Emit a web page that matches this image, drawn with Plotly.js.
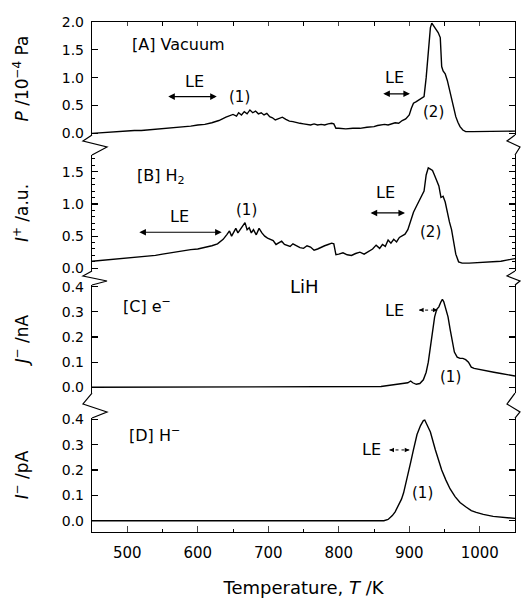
<!DOCTYPE html>
<html>
<head>
<meta charset="utf-8">
<script src="https://cdn.plot.ly/plotly-3.0.1.min.js"></script>
<style>html,body{margin:0;padding:0;background:#fff;}#chart{width:521px;height:598px;}</style>
</head>
<body>
<div id="chart"></div>
<script>
// ---------- data ----------
const tempA = [450,460,470,480,490,500,510,520,530,540,550,560,570,580,590,600,610,620,630,640,645,650,655,658,662,666,670,674,678,682,686,690,694,698,702,706,710,715,720,725,730,735,740,745,750,755,760,765,770,775,780,785,790,793,796,800,810,820,830,840,850,855,860,865,870,875,880,885,890,895,900,903,906,910,914,918,921,924,927,930,932,935,938,941,944,946,948,951,954,957,960,963,966,969,972,976,980,990,1000,1010,1020,1030,1040,1050];
const pressureA = [0.00,0.01,0.02,0.03,0.03,0.04,0.05,0.05,0.06,0.07,0.08,0.09,0.10,0.11,0.13,0.15,0.16,0.19,0.23,0.29,0.31,0.34,0.31,0.37,0.33,0.39,0.35,0.42,0.37,0.40,0.35,0.37,0.33,0.36,0.30,0.28,0.24,0.26,0.29,0.25,0.22,0.21,0.19,0.18,0.17,0.16,0.15,0.17,0.15,0.16,0.15,0.17,0.18,0.17,0.09,0.09,0.08,0.09,0.09,0.11,0.12,0.14,0.15,0.16,0.15,0.17,0.19,0.18,0.23,0.26,0.33,0.45,0.54,0.57,0.60,0.63,0.66,1.00,1.50,1.90,1.98,1.93,1.87,1.81,1.72,1.20,1.12,1.07,0.95,0.78,0.62,0.45,0.30,0.20,0.12,0.06,0.03,0.03,0.03,0.03,0.03,0.03,0.03,0.04];

const tempB = [450,460,470,480,490,500,510,520,530,540,550,560,570,580,590,600,610,620,628,636,641,645,648,651,654,657,660,664,667,670,673,676,679,683,687,691,695,699,703,707,711,715,719,723,727,731,735,740,745,750,755,760,765,770,775,780,785,790,793,796,800,806,812,818,824,830,836,842,848,853,858,862,866,870,874,878,882,886,890,894,898,902,906,910,914,918,921,924,927,930,933,936,939,942,945,948,951,954,957,960,963,966,970,975,985,1000,1010,1020,1030,1040,1048,1050];
const ionB = [0.11,0.12,0.13,0.13,0.14,0.15,0.16,0.17,0.19,0.20,0.22,0.24,0.25,0.27,0.29,0.30,0.32,0.35,0.38,0.45,0.52,0.58,0.50,0.55,0.62,0.55,0.60,0.66,0.71,0.60,0.63,0.55,0.60,0.52,0.62,0.55,0.50,0.47,0.45,0.43,0.37,0.39,0.42,0.37,0.35,0.34,0.38,0.35,0.32,0.31,0.35,0.33,0.28,0.30,0.33,0.35,0.37,0.39,0.38,0.21,0.22,0.24,0.21,0.20,0.23,0.25,0.22,0.26,0.30,0.36,0.31,0.37,0.34,0.44,0.39,0.45,0.41,0.48,0.50,0.53,0.60,0.74,0.87,0.96,1.05,1.12,1.20,1.45,1.56,1.54,1.52,1.44,1.36,1.28,1.10,1.12,1.03,0.85,0.72,0.60,0.38,0.22,0.10,0.08,0.08,0.09,0.09,0.10,0.11,0.13,0.14,0.15];

const tempC = [450,500,550,600,650,700,750,800,850,860,870,880,890,898,902,905,910,915,920,924,927,930,933,936,939,942,945,947,949,952,955,958,961,964,968,972,976,980,984,988,992,1000,1010,1020,1030,1040,1050];
const electronC = [0,0,0,0,0,0,0,0,0,0.003,0.007,0.010,0.014,0.018,0.025,0.018,0.012,0.015,0.030,0.060,0.100,0.160,0.220,0.280,0.310,0.320,0.340,0.350,0.340,0.310,0.280,0.230,0.180,0.140,0.120,0.115,0.115,0.110,0.100,0.080,0.075,0.070,0.065,0.060,0.055,0.050,0.045];

const tempD = [450,500,550,600,650,700,750,800,850,864,870,876,880,885,889,892,895,898,902,906,911,916,920,922,925,930,937,942,946,952,958,965,972,980,988,995,1005,1019,1035,1050];
const hydrideD = [0,0,0,0,0,0,0,0,0,0,0.005,0.020,0.035,0.060,0.085,0.110,0.150,0.190,0.230,0.280,0.340,0.375,0.395,0.397,0.380,0.350,0.280,0.235,0.200,0.160,0.125,0.095,0.072,0.055,0.040,0.033,0.025,0.017,0.012,0.009];

const tickLabelsA = ['0.0','0.5','1.0','1.5','2.0'];
const tickLabelsB = ['0.0','0.5','1.0','1.5'];
const tickLabelsCD = ['0.0','0.1','0.2','0.3','0.4'];

// ---------- style ----------
const FONT = 'DejaVu Sans, Liberation Sans, sans-serif';
const W = 521, H = 598, ML = 92, MR = 6, MT = 22, MB = 66;
const PW = W - ML - MR, PH = H - MT - MB;
const px = x => (x - ML) / PW;
const py = y => (MT + PH - y) / PH;
const lineStyle = {color: '#000', width: 1.4};

const traces = [
  {x: tempA, y: pressureA, xaxis: 'x', yaxis: 'y', mode: 'lines', line: lineStyle, hoverinfo: 'skip'},
  {x: tempB, y: ionB, xaxis: 'x2', yaxis: 'y2', mode: 'lines', line: lineStyle, hoverinfo: 'skip'},
  {x: tempC, y: electronC, xaxis: 'x3', yaxis: 'y3', mode: 'lines', line: lineStyle, hoverinfo: 'skip'},
  {x: tempD, y: hydrideD, xaxis: 'x4', yaxis: 'y4', mode: 'lines', line: lineStyle, hoverinfo: 'skip'}
];

const xr = [450, 1050];
const hiddenX = anchor => ({anchor, range: xr, showline: false, ticks: '', showticklabels: false, showgrid: false, zeroline: false});

function yAx(domain, range, vals, texts, title, minorD, standoff) {
  return {
    domain, range, tickmode: 'array', tickvals: vals.map(Number), ticktext: texts,
    showline: true, linecolor: '#000', linewidth: 1.2, mirror: 'ticks',
    ticks: 'inside', ticklen: 6, tickwidth: 1.2, tickcolor: '#000',
    minor: minorD ? {dtick: minorD, tick0: 0, ticks: 'inside', ticklen: 3, tickcolor: '#000', tickwidth: 1} : undefined,
    showgrid: false, zeroline: false,
    tickfont: {family: FONT, size: 14, color: '#000'},
    ticklabelstandoff: 4,
    title: {text: title, font: {family: FONT, size: 17, color: '#000'}, standoff: standoff}
  };
}

const layout = {
  width: W, height: H, margin: {l: ML, r: MR, t: MT, b: MB},
  paper_bgcolor: '#fff', plot_bgcolor: 'rgba(0,0,0,0)', showlegend: false,
  font: {family: FONT, color: '#000'},
  xaxis: {anchor: 'y', range: xr, side: 'top', showline: true, linecolor: '#000', linewidth: 1.2,
    ticks: 'inside', ticklen: 4, tickwidth: 1.2, dtick: 100, tick0: 0, showticklabels: false,
    minor: {dtick: 50, tick0: 0, ticks: 'inside', ticklen: 4, tickwidth: 1, tickcolor: '#000'},
    showgrid: false, zeroline: false},
  xaxis2: hiddenX('y2'),
  xaxis3: hiddenX('y3'),
  xaxis4: {anchor: 'y4', range: xr, showline: true, linecolor: '#000', linewidth: 1.2,
    ticks: 'inside', ticklen: 6, tickwidth: 1.2, dtick: 100, tick0: 0,
    minor: {dtick: 50, tick0: 0, ticks: 'inside', ticklen: 3, tickwidth: 1, tickcolor: '#000'},
    showgrid: false, zeroline: false, ticklabelstandoff: 7,
    tickfont: {family: FONT, size: 15, color: '#000'},
    title: {text: 'Temperature, <i>T</i> /K', font: {family: FONT, size: 18, color: '#000'}, standoff: 22}},
  yaxis: yAx([py(135), 1], [-0.03, 2.0], tickLabelsA, tickLabelsA, '<i>P</i> /10<sup>−4</sup> Pa', null, 28),
  yaxis2: yAx([py(271), py(155)], [-0.042, 1.76], tickLabelsB, tickLabelsB, '<i>I</i><sup>+</sup> /a.u.', 0.1, 28),
  yaxis3: yAx([py(393), py(285)], [-0.0227, 0.4068], tickLabelsCD, tickLabelsCD, '<i>J</i><sup>−</sup> /nA', null, 28),
  yaxis4: yAx([0, py(418)], [-0.0446, 0.405], tickLabelsCD, tickLabelsCD, '<i>I</i><sup>−</sup> /pA', null, 28),
  shapes: [], annotations: []
};
layout.yaxis.anchor = 'x';
layout.yaxis2.anchor = 'x2';
layout.yaxis3.anchor = 'x3';
layout.yaxis4.anchor = 'x4';

// axis-break zigzags (decoration)
function zig(pts) {
  const d = pts.map((p, i) => (i ? 'L' : 'M') + px(p[0]).toFixed(4) + ',' + py(p[1]).toFixed(4)).join(' ');
  return {type: 'path', xref: 'paper', yref: 'paper', path: d, line: {color: '#000', width: 1.2}};
}
layout.shapes.push(
  zig([[92,135],[83,141],[107,147],[92,155]]),
  zig([[515,135],[507,141],[520,147],[515,155]]),
  zig([[92,271],[83,276],[107,281],[92,285]]),
  zig([[515,271],[507,276],[520,281],[515,285]]),
  zig([[92,393],[83,404],[107,412],[92,418]]),
  zig([[515,393],[507,404],[520,412],[515,418]])
);

function txt(xa, ya, x, y, text, size) {
  return {xref: xa, yref: ya, x, y, text, showarrow: false, font: {family: FONT, size: size || 16, color: '#000'}, xanchor: 'center', yanchor: 'middle'};
}
function dbl(xa, ya, x0, x1, y) {
  return {xref: xa, yref: ya, axref: xa, ayref: ya, x: x1, y, ax: x0, ay: y, text: '', showarrow: true,
    arrowhead: 2, arrowside: 'end+start', arrowsize: 1.1, arrowwidth: 1.2, arrowcolor: '#000'};
}
function smallHead(xa, ya, x, y, dir) {
  return {xref: xa, yref: ya, x, y, ax: -dir * 5, ay: 0, text: '', showarrow: true,
    arrowhead: 2, arrowsize: 0.9, arrowwidth: 1, arrowcolor: '#000'};
}
function dotted(xa, ya, x0, x1, y) {
  return {type: 'line', xref: xa, yref: ya, x0, x1, y0: y, y1: y, line: {color: '#000', width: 1, dash: 'dot'}};
}

layout.annotations.push(
  txt('x', 'y', 573, 1.60, '[A] Vacuum'),
  txt('x', 'y', 596, 0.93, 'LE'),
  dbl('x', 'y', 556, 627, 0.66),
  txt('x', 'y', 659, 0.66, '(1)', 15),
  txt('x', 'y', 879, 1.00, 'LE'),
  dbl('x', 'y', 861, 901, 0.71),
  txt('x', 'y', 935, 0.385, '(2)', 15),

  txt('x2', 'y2', 548, 1.42, '[B] H<sub>2</sub>'),
  txt('x2', 'y2', 574, 0.80, 'LE'),
  dbl('x2', 'y2', 515, 634, 0.56),
  txt('x2', 'y2', 669, 0.905, '(1)', 15),
  txt('x2', 'y2', 867, 1.17, 'LE'),
  dbl('x2', 'y2', 843, 894, 0.86),
  txt('x2', 'y2', 930, 0.56, '(2)', 15),

  txt('x3', 'y3', 528, 0.327, '[C] e<sup>−</sup>'),
  txt('x3', 'y3', 751, 0.40, 'LiH', 18),
  txt('x3', 'y3', 879, 0.307, 'LE'),
  smallHead('x3', 'y3', 914, 0.307, -1),
  smallHead('x3', 'y3', 940, 0.307, 1),
  txt('x3', 'y3', 958, 0.041, '(1)', 15),

  txt('x4', 'y4', 539, 0.338, '[D] H<sup>−</sup>'),
  txt('x4', 'y4', 846, 0.279, 'LE'),
  smallHead('x4', 'y4', 872, 0.279, -1),
  smallHead('x4', 'y4', 900, 0.279, 1),
  txt('x4', 'y4', 919, 0.109, '(1)', 15)
);
layout.shapes.push(
  dotted('x3', 'y3', 914, 940, 0.307),
  dotted('x4', 'y4', 872, 900, 0.279)
);

Plotly.newPlot('chart', traces, layout, {staticPlot: true, displayModeBar: false});
</script>
</body>
</html>
